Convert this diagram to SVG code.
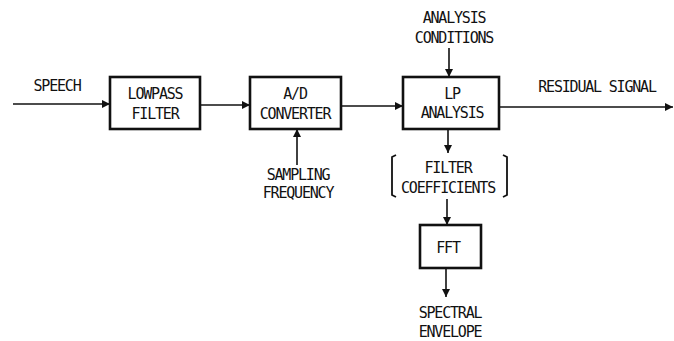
<svg xmlns="http://www.w3.org/2000/svg" width="674" height="341" viewBox="0 0 674 341">
<style>
.box{fill:#fff;stroke:#111;stroke-width:2.6}
.ln{fill:none;stroke:#111;stroke-width:1.6}
.br{fill:none;stroke:#111;stroke-width:1.8}
text{font-family:"DejaVu Sans Mono","Liberation Mono",monospace;font-size:15px;letter-spacing:-1.2px;fill:#111;text-anchor:middle}
</style>
<defs>
<marker id="ah" viewBox="0 0 10 10" refX="10" refY="5" markerWidth="8" markerHeight="8" markerUnits="userSpaceOnUse" orient="auto">
<path d="M0,0 L10,5 L0,10 Z" fill="#111"/>
</marker>
</defs>
<rect width="674" height="341" fill="#fff"/>
<g id="connectors">
<line class="ln" x1="13" y1="104" x2="110" y2="104" marker-end="url(#ah)"/>
<line class="ln" x1="200" y1="105" x2="250" y2="105" marker-end="url(#ah)"/>
<line class="ln" x1="341" y1="106" x2="403" y2="106" marker-end="url(#ah)"/>
<line class="ln" x1="499" y1="107" x2="673" y2="107" marker-end="url(#ah)"/>
<line class="ln" x1="449" y1="48" x2="449" y2="77" marker-end="url(#ah)"/>
<line class="ln" x1="297" y1="165" x2="297" y2="129" marker-end="url(#ah)"/>
<line class="ln" x1="448" y1="129" x2="448" y2="153" marker-end="url(#ah)"/>
<line class="ln" x1="447" y1="199" x2="447" y2="225" marker-end="url(#ah)"/>
<line class="ln" x1="446" y1="268" x2="446" y2="297" marker-end="url(#ah)"/>
</g>
<g id="speech"><text x="57" y="91">SPEECH</text></g>
<g id="lowpass">
<rect class="box" x="110" y="77" width="90" height="52"/>
<text x="155" y="99">LOWPASS</text>
<text x="155" y="119">FILTER</text>
</g>
<g id="adconv">
<rect class="box" x="250" y="77" width="91" height="52"/>
<text x="295" y="99">A/D</text>
<text x="295" y="119">CONVERTER</text>
</g>
<g id="lpanalysis">
<rect class="box" x="403" y="77" width="96" height="52"/>
<text x="452" y="99">LP</text>
<text x="452" y="118">ANALYSIS</text>
</g>
<g id="conditions">
<text x="454" y="23">ANALYSIS</text>
<text x="454" y="43">CONDITIONS</text>
</g>
<g id="sampling">
<text x="298" y="180">SAMPLING</text>
<text x="298" y="198">FREQUENCY</text>
</g>
<g id="coefficients">
<path class="br" d="M396,155 L392,157 L392,195 L396,197"/>
<path class="br" d="M503,155 L507,157 L507,195 L503,197"/>
<text x="448" y="173">FILTER</text>
<text x="448" y="193">COEFFICIENTS</text>
</g>
<g id="fft">
<rect class="box" x="420" y="225" width="61" height="43"/>
<text x="448" y="253">FFT</text>
</g>
<g id="spectral">
<text x="450" y="318">SPECTRAL</text>
<text x="450" y="337">ENVELOPE</text>
</g>
<g id="residual"><text x="597" y="92">RESIDUAL SIGNAL</text></g>
</svg>
